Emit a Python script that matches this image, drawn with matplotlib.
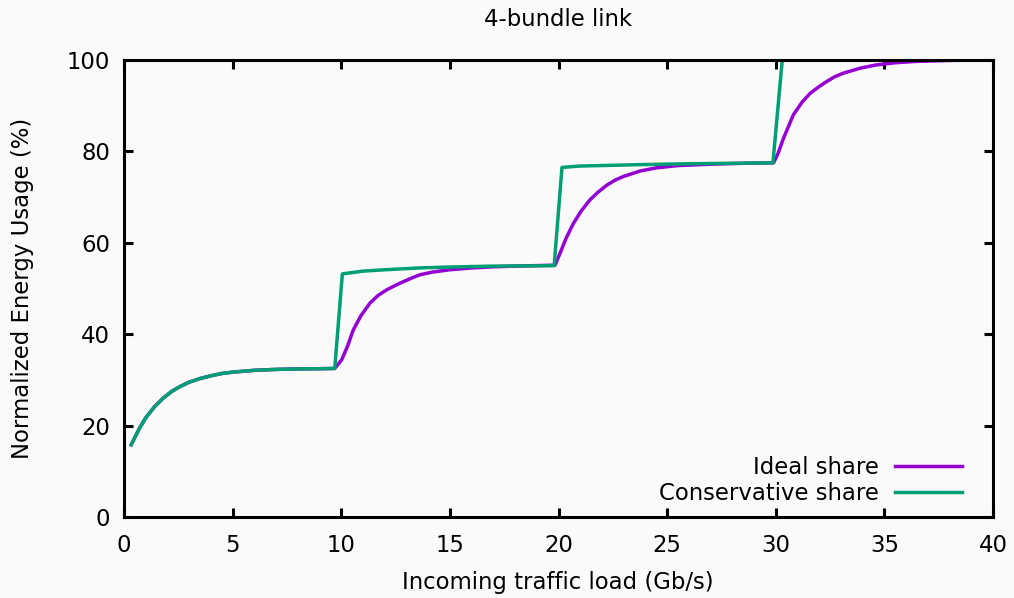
import matplotlib.pyplot as plt

# Ideal share
ideal_x = [0.33, 0.7, 1.0, 1.4, 1.8, 2.2, 2.6, 3.0, 3.5, 4.0, 4.5, 5.0, 6.0, 7.0, 8.0, 9.0, 9.7,
           10.02, 10.3, 10.55, 10.9, 11.32, 11.7, 12.09, 12.5, 12.86, 13.3, 13.62, 14.2, 15.0, 16.0, 17.0, 18.0, 19.84,
           20.07, 20.35, 20.68, 21.05, 21.45, 21.8, 22.22, 22.6, 22.98, 23.75, 24.5, 25.5, 27.0, 28.5, 29.9,
           30.1, 30.35, 30.81, 31.2, 31.58, 32.0, 32.35, 32.7, 33.1, 33.88, 34.6, 35.5, 36.5, 38.0, 40.0]
ideal_y = [15.8, 19.3, 21.7, 24.1, 26.0, 27.5, 28.6, 29.5, 30.3, 30.9, 31.4, 31.7, 32.1, 32.3, 32.4, 32.45, 32.5,
           34.4, 37.5, 40.9, 44.0, 46.8, 48.5, 49.7, 50.7, 51.5, 52.4, 53.0, 53.6, 54.1, 54.5, 54.75, 54.9, 55.1,
           57.7, 61.0, 64.2, 67.0, 69.4, 71.0, 72.6, 73.7, 74.5, 75.7, 76.4, 76.9, 77.2, 77.4, 77.5,
           79.5, 82.8, 88.0, 90.7, 92.7, 94.2, 95.3, 96.3, 97.1, 98.2, 98.9, 99.4, 99.7, 99.9, 100.0]

# Conservative share
cons_x = [0.33, 0.7, 1.0, 1.4, 1.8, 2.2, 2.6, 3.0, 3.5, 4.0, 4.5, 5.0, 6.0, 7.0, 8.0, 9.0, 9.7,
          10.05, 11.0, 12.0, 13.6, 15.0, 17.0, 19.8,
          20.16, 21.0, 23.75, 26.0, 29.87,
          30.3, 40.0]
cons_y = [15.8, 19.3, 21.7, 24.1, 26.0, 27.5, 28.6, 29.5, 30.3, 30.9, 31.4, 31.7, 32.1, 32.3, 32.4, 32.45, 32.5,
          53.2, 53.8, 54.1, 54.5, 54.7, 54.9, 55.0,
          76.5, 76.8, 77.1, 77.3, 77.5,
          100.0, 100.0]

FS = 16.4
plt.rcParams['font.family'] = 'DejaVu Sans'
plt.rcParams['font.size'] = FS

fig = plt.figure(figsize=(10.14, 5.98), dpi=100)
fig.patch.set_facecolor('#fafafa')
ax = fig.add_axes([124 / 1014, 1 - 517 / 598, (993 - 124) / 1014, (517 - 60) / 598])
ax.set_facecolor('#fafafa')

ax.plot(ideal_x, ideal_y, color='#9400D3', lw=2.5, label='Ideal share')
ax.plot(cons_x, cons_y, color='#009E73', lw=2.5, label='Conservative share')

ax.set_xlim(0, 40)
ax.set_ylim(0, 100)
ax.set_xticks(range(0, 41, 5))
ax.set_yticks(range(0, 101, 20))
ax.tick_params(direction='in', length=6.5, width=2.2, top=True, right=True, labelsize=FS)
ax.tick_params(axis='x', pad=12)
ax.tick_params(axis='y', pad=10)
for s in ax.spines.values():
    s.set_linewidth(2.2)
    s.set_zorder(5)

fig.text(558 / 1014, 1 - 20 / 598, '4-bundle link', ha='center', va='center', fontsize=FS)
fig.text(558 / 1014, 1 - 582 / 598, 'Incoming traffic load (Gb/s)', ha='center', va='center', fontsize=FS)
fig.text(23 / 1014, 1 - 288 / 598, 'Normalized Energy Usage (%)', ha='center', va='center',
         rotation=90, fontsize=FS)

ax.legend(loc='lower right', bbox_to_anchor=(0.978, 0.0), markerfirst=False, frameon=False,
          handlelength=2.95, handletextpad=0.7, labelspacing=0.15, borderaxespad=0.12, fontsize=FS)

fig.savefig('out.png', dpi=100, facecolor=fig.get_facecolor())
